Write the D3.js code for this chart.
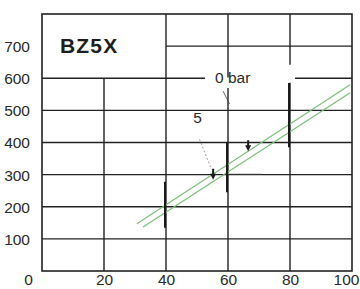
<!DOCTYPE html>
<html>
<head>
<meta charset="utf-8">
<script src="https://d3js.org/d3.v7.min.js"></script>
<style>
body { margin: 0; background: #fff; }
svg { display: block; font-family: "Liberation Sans", Arial, sans-serif; }
.tick text { fill: #2a2a2a; font-size: 15.5px; }
</style>
</head>
<body>
<script>
// values
var xTicks = [0, 20, 40, 60, 80, 100];
var yTicks = [100, 200, 300, 400, 500, 600, 700];
var title = "BZ5X";

// measured range at each flow (x, low, high)
var rangeX = [40, 60, 80];
var rangeLow = [135, 245, 385];
var rangeHigh = [278, 400, 585];

// tolerance band (two green lines)
var upperLine = [[30.6, 147], [99.4, 580]];
var lowerLine = [[32.6, 137], [99.4, 555]];

// small arrow marks on the 5 bar curve
var arrowX = [55.2, 66.5];
var arrowY = [300, 388];

// grid segments [value, from, to] with the gaps of the original
var hGrid = [[100, 0, 100], [200, 0, 100], [300, 0, 100], [400, 0, 100], [500, 0, 100],
             [600, 0, 52.6], [600, 81.6, 100], [700, 40, 100]];
var vGrid = [[20, 0, 600], [40, 0, 800], [60, 0, 570], [60, 602, 800],
             [80, 0, 586], [80, 642, 800]];

var width = 360, height = 289;
var svg = d3.select("body").append("svg")
  .attr("width", width)
  .attr("height", height);

var x = d3.scaleLinear().domain([0, 100]).range([42, 352]);
var y = d3.scaleLinear().domain([0, 800]).range([271, 14]);

var grid = svg.append("g").attr("stroke", "#222").attr("stroke-width", 1.4);
grid.selectAll(".h").data(hGrid).enter().append("line")
  .attr("x1", function(d) { return x(d[1]); })
  .attr("x2", function(d) { return x(d[2]); })
  .attr("y1", function(d) { return y(d[0]); })
  .attr("y2", function(d) { return y(d[0]); });
grid.selectAll(".v").data(vGrid).enter().append("line")
  .attr("x1", function(d) { return x(d[0]); })
  .attr("x2", function(d) { return x(d[0]); })
  .attr("y1", function(d) { return y(d[1]); })
  .attr("y2", function(d) { return y(d[2]); });

// frame
svg.append("rect")
  .attr("x", x(0)).attr("y", y(800))
  .attr("width", x(100) - x(0)).attr("height", y(0) - y(800))
  .attr("fill", "none").attr("stroke", "#222").attr("stroke-width", 1.6);

// axes (labels only)
var yAxis = svg.append("g")
  .attr("transform", "translate(" + (x(0) - 12) + ",0)")
  .call(d3.axisLeft(y).tickValues(yTicks).tickSize(0).tickPadding(0));
yAxis.select(".domain").remove();
yAxis.selectAll("text").attr("dy", "0.35em");

var xAxis = svg.append("g")
  .attr("transform", "translate(0," + 285 + ")")
  .call(d3.axisBottom(x).tickValues(xTicks).tickSize(0).tickPadding(0));
xAxis.select(".domain").remove();
xAxis.selectAll("text").attr("dy", "0");
xAxis.selectAll(".tick").filter(function(d) { return d === 0; })
  .select("text").attr("dx", -14);
xAxis.selectAll(".tick").filter(function(d) { return d === 100; })
  .select("text").attr("dx", -6);

// title
svg.append("text")
  .attr("x", x(5.8)).attr("y", y(679))
  .attr("font-size", 21).attr("font-weight", "bold")
  .attr("letter-spacing", 1.2)
  .attr("fill", "#1e1e1e")
  .text(title);

// tolerance band
var line = d3.line().x(function(d) { return x(d[0]); }).y(function(d) { return y(d[1]); });
svg.selectAll(".band").data([upperLine, lowerLine]).enter().append("path")
  .attr("d", line)
  .attr("fill", "none").attr("stroke", "#7cc07a").attr("stroke-width", 1.2);

// measured ranges
svg.selectAll(".rng").data(rangeX).enter().append("line")
  .attr("x1", function(d) { return x(d) - 1; })
  .attr("x2", function(d) { return x(d) - 1; })
  .attr("y1", function(d, i) { return y(rangeLow[i]); })
  .attr("y2", function(d, i) { return y(rangeHigh[i]); })
  .attr("stroke", "#1a1a1a").attr("stroke-width", 2);

// leader lines
svg.append("line")
  .attr("x1", x(58.4)).attr("y1", y(560))
  .attr("x2", x(60.5)).attr("y2", y(520))
  .attr("stroke", "#444").attr("stroke-width", 0.8);
svg.append("line")
  .attr("x1", x(50.8)).attr("y1", y(410))
  .attr("x2", x(54.6)).attr("y2", y(318))
  .attr("stroke", "#777").attr("stroke-width", 0.7).attr("stroke-dasharray", "2,2");
svg.append("line")
  .attr("x1", x(60)).attr("y1", y(303))
  .attr("x2", x(71)).attr("y2", y(303))
  .attr("stroke", "#bbb").attr("stroke-width", 0.7);

// arrow marks
svg.selectAll(".arr").data(arrowX).enter().append("path")
  .attr("d", function(d, i) {
    var cx = x(d), cy = y(arrowY[i]);
    return "M" + (cx - 1) + "," + (cy - 6) + "L" + (cx + 1) + "," + (cy - 6) +
      "L" + (cx + 1) + "," + (cy - 1) + "L" + (cx + 3) + "," + (cy - 1) +
      "L" + cx + "," + (cy + 5) + "L" + (cx - 3) + "," + (cy - 1) +
      "L" + (cx - 1) + "," + (cy - 1) + "Z";
  })
  .attr("fill", "#1a1a1a");

// annotations
svg.append("text").attr("x", x(55.8)).attr("y", y(600) + 5)
  .attr("font-size", 15.5).attr("fill", "#2a2a2a").text("0 bar");
svg.append("text").attr("x", x(48.8)).attr("y", y(462))
  .attr("font-size", 15.5).attr("fill", "#2a2a2a").text("5");
</script>
</body>
</html>
